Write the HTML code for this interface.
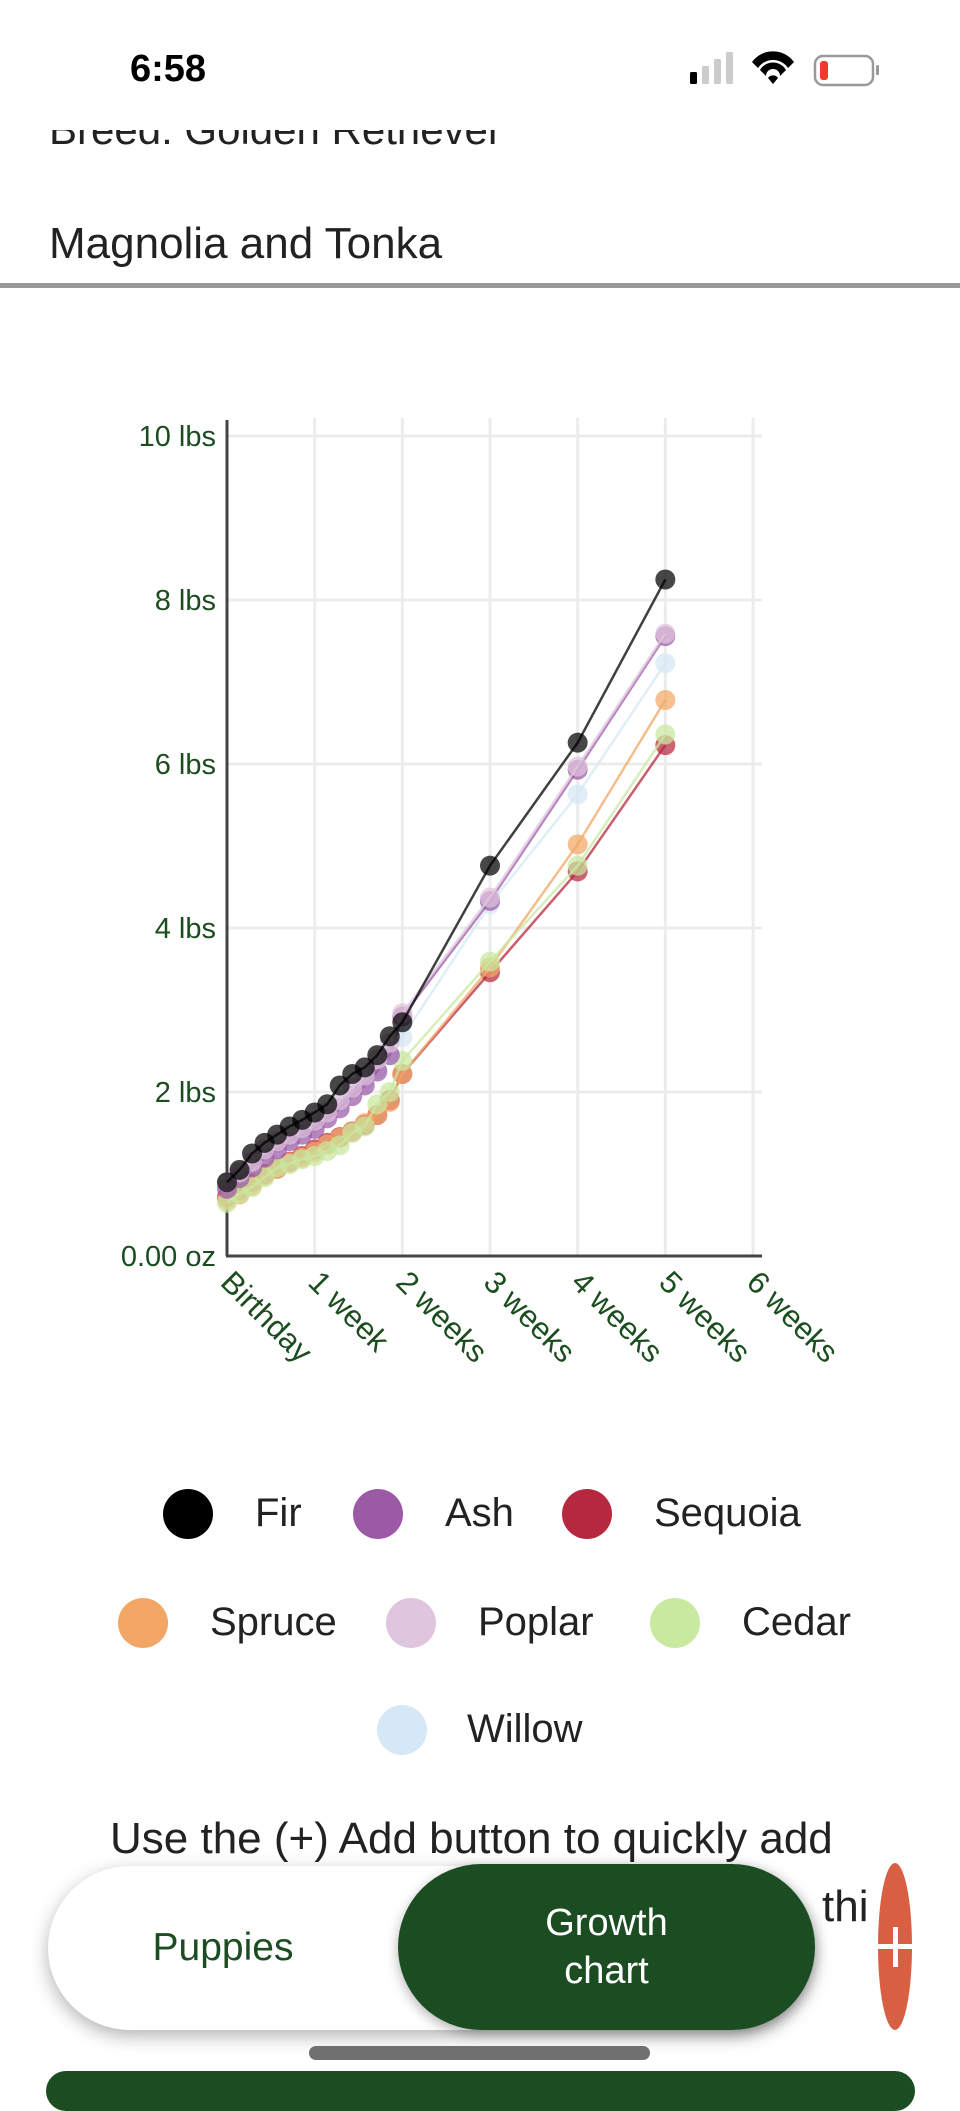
<!DOCTYPE html>
<html><head><meta charset="utf-8">
<style>
html,body{margin:0;padding:0;background:#fff;}
body{width:960px;height:2079px;position:relative;overflow:hidden;font-family:"Liberation Sans",sans-serif;}
.abs{position:absolute;}
</style></head>
<body>
<div class="abs" style="left:49px;top:106px;font-size:42px;color:#222;white-space:nowrap;">Breed: Golden Retriever</div>
<div class="abs" style="left:0;top:0;width:960px;height:130px;background:#fff;">
  <div class="abs" style="left:130px;top:48px;font-size:38px;font-weight:bold;color:#000;">6:58</div>
  <svg class="abs" style="left:680px;top:50px" width="210" height="40">
    <rect x="10" y="22" width="7" height="12" rx="1.5" fill="#000"/>
    <rect x="22" y="16" width="7" height="18" rx="1.5" fill="#ccc"/>
    <rect x="34" y="9" width="7" height="25" rx="1.5" fill="#ccc"/>
    <rect x="46" y="2" width="7" height="32" rx="1.5" fill="#ccc"/>
    <path d="M72 12 A26 26 0 0 1 114 12 L108 18 A18 18 0 0 0 78 18Z M80 20 A15 15 0 0 1 106 20 L100 26 A7 7 0 0 0 86 26Z M88 28 A6 6 0 0 1 98 28 L93 34Z" fill="#000"/>
    <rect x="135" y="6" width="58" height="29" rx="8" fill="none" stroke="#999" stroke-width="2.5"/>
    <rect x="140" y="11" width="8" height="19" rx="3" fill="#f03a2e"/>
    <rect x="196" y="15" width="3" height="10" rx="1" fill="#999"/>
  </svg>
</div>
<div class="abs" style="left:49px;top:219px;font-size:44px;color:#222;">Magnolia and Tonka</div>
<div class="abs" style="left:0;top:283px;width:960px;height:5px;background:#999;"></div>

<svg class="abs" id="chart" style="left:0;top:380px" width="960" height="1050"></svg>

<div>
<div class="abs" style="left:163px;top:1489px;"><span style="position:absolute;left:0;top:0;width:50px;height:50px;border-radius:50%;background:#000"></span><span style="position:absolute;left:92px;top:2px;font-size:40px;color:#222">Fir</span></div>
<div class="abs" style="left:353px;top:1489px;"><span style="position:absolute;left:0;top:0;width:50px;height:50px;border-radius:50%;background:#9b59a6"></span><span style="position:absolute;left:92px;top:2px;font-size:40px;color:#222">Ash</span></div>
<div class="abs" style="left:562px;top:1489px;"><span style="position:absolute;left:0;top:0;width:50px;height:50px;border-radius:50%;background:#b5283f"></span><span style="position:absolute;left:92px;top:2px;font-size:40px;color:#222;white-space:nowrap">Sequoia</span></div>
<div class="abs" style="left:118px;top:1598px;"><span style="position:absolute;left:0;top:0;width:50px;height:50px;border-radius:50%;background:#f2a766"></span><span style="position:absolute;left:92px;top:2px;font-size:40px;color:#222">Spruce</span></div>
<div class="abs" style="left:386px;top:1598px;"><span style="position:absolute;left:0;top:0;width:50px;height:50px;border-radius:50%;background:#dfc5dd"></span><span style="position:absolute;left:92px;top:2px;font-size:40px;color:#222">Poplar</span></div>
<div class="abs" style="left:650px;top:1598px;"><span style="position:absolute;left:0;top:0;width:50px;height:50px;border-radius:50%;background:#c9e8a0"></span><span style="position:absolute;left:92px;top:2px;font-size:40px;color:#222">Cedar</span></div>
<div class="abs" style="left:377px;top:1705px;"><span style="position:absolute;left:0;top:0;width:50px;height:50px;border-radius:50%;background:#d6e8f5"></span><span style="position:absolute;left:90px;top:2px;font-size:40px;color:#222">Willow</span></div>
</div>

<div class="abs" style="left:110px;top:1814px;font-size:44px;color:#222;white-space:nowrap;">Use the (+) Add button to quickly add</div>
<div class="abs" style="left:822px;top:1882px;font-size:44px;color:#222;white-space:nowrap;">thi</div>

<div class="abs" style="left:48px;top:1866px;width:766px;height:164px;border-radius:82px;background:#fff;box-shadow:0 6px 18px rgba(0,0,0,0.3);"></div>
<div class="abs" style="left:48px;top:1866px;width:350px;height:164px;display:flex;align-items:center;justify-content:center;font-size:39px;color:#1c4d22;">Puppies</div>
<div class="abs" style="left:398px;top:1864px;width:417px;height:166px;border-radius:83px;background:#1c4d22;display:flex;align-items:center;justify-content:center;text-align:center;font-size:38px;line-height:48px;color:#fff;box-shadow:0 4px 12px rgba(0,0,0,0.3);">Growth<br>chart</div>
<div class="abs" style="left:878px;top:1863px;width:34px;height:167px;border-radius:50%;background:#d95f43;"></div>
<div class="abs" style="left:877px;top:1944px;width:36px;height:5px;background:#fff;"></div>
<div class="abs" style="left:893px;top:1927px;width:5px;height:40px;background:#fff;"></div>
<div class="abs" style="left:309px;top:2046px;width:341px;height:14px;border-radius:7px;background:#707070;"></div>
<div class="abs" style="left:46px;top:2071px;width:869px;height:40px;border-radius:20px;background:#1c4d22;"></div>

<script>
const xTickDays = [0, 7, 14, 21, 28, 35, 42];
const xTickLabels = ["Birthday", "1 week", "2 weeks", "3 weeks", "4 weeks", "5 weeks", "6 weeks"];
const yTickValues = [0, 2, 4, 6, 8, 10];
const yTickLabels = ["0.00 oz", "2 lbs", "4 lbs", "6 lbs", "8 lbs", "10 lbs"];
const days = [0,1,2,3,4,5,6,7,8,9,10,11,12,13,14,21,28,35];
const seriesNames = ["Sequoia","Spruce","Cedar","Willow","Ash","Poplar","Fir"];
const seriesColors = ["#b5283f","#f2a766","#c9e8a0","#d6e8f5","#9b59a6","#dfc5dd","#000000"];
const sequoia = [0.72,0.8,0.9,1.0,1.07,1.15,1.22,1.3,1.38,1.45,1.52,1.6,1.72,1.9,2.22,3.46,4.69,6.23];
const spruce  = [0.68,0.75,0.86,0.98,1.06,1.14,1.2,1.27,1.36,1.44,1.52,1.62,1.72,1.88,2.22,3.52,5.02,6.78];
const cedar   = [0.65,0.76,0.84,0.96,1.08,1.12,1.18,1.22,1.28,1.35,1.5,1.58,1.85,2.0,2.38,3.59,4.76,6.36];
const willow  = [0.88,1.0,1.12,1.28,1.38,1.45,1.55,1.62,1.75,1.88,2.05,2.15,2.28,2.45,2.67,4.29,5.63,7.23];
const ash     = [0.82,0.95,1.08,1.2,1.3,1.4,1.48,1.55,1.68,1.8,1.95,2.08,2.25,2.45,2.92,4.33,5.93,7.56];
const poplar  = [0.9,1.02,1.15,1.3,1.4,1.48,1.56,1.65,1.75,1.9,2.05,2.2,2.4,2.6,2.96,4.37,5.97,7.59];
const fir     = [0.9,1.05,1.25,1.38,1.48,1.58,1.66,1.75,1.85,2.08,2.22,2.3,2.45,2.68,2.85,4.76,6.26,8.25];
const seriesData = [sequoia, spruce, cedar, willow, ash, poplar, fir];

const NS = "http://www.w3.org/2000/svg";
const svg = document.getElementById("chart");
const X0 = 227, X1 = 762, Y0 = 876, YT = 38;
const dayPx = (753 - 227) / 42;
function xs(d){ return X0 + d * dayPx; }
function ys(v){ return Y0 - v * 82; }
function mk(tag, attrs){ const e = document.createElementNS(NS, tag); for (const k in attrs) e.setAttribute(k, attrs[k]); svg.appendChild(e); return e; }

yTickValues.forEach((v, i) => {
  if (v > 0) {
    const g = mk("line", {x1: X0, x2: X1, y1: ys(v), y2: ys(v), stroke: "#ececec", "stroke-width": 3});
    
    
  }
  const t = mk("text", {x: 216, y: ys(v) + 10, "text-anchor": "end", "font-size": 29, fill: "#1b4d1f", "font-family": "Liberation Sans, sans-serif"});
  t.textContent = yTickLabels[i];
  
  
});
xTickDays.forEach((d, i) => {
  if (d > 0) {
    const g = mk("line", {x1: xs(d), x2: xs(d), y1: YT, y2: Y0, stroke: "#ececec", "stroke-width": 3});
    
    
  }
  const tx = xs(d) - 8, ty = Y0 + 28;
  const t = mk("text", {x: tx, y: ty, transform: "rotate(45 " + tx + " " + ty + ")", "font-size": 31, fill: "#1b4d1f", "font-family": "Liberation Sans, sans-serif"});
  t.textContent = xTickLabels[i];
  
  
});
const ax = mk("line", {x1: X0, x2: X0, y1: YT + 2, y2: Y0, stroke: "#444", "stroke-width": 3});


const bx = mk("line", {x1: X0 - 1, x2: X1, y1: Y0, y2: Y0, stroke: "#444", "stroke-width": 3});



seriesData.forEach((vals, s) => {
  const pts = vals.map((v, i) => xs(days[i]) + "," + ys(v)).join(" ");
  const pl = mk("polyline", {points: pts, fill: "none", stroke: seriesColors[s], "stroke-width": 2.5, opacity: 0.75});
  
  
  vals.forEach((v, i) => {
    const c = mk("circle", {cx: xs(days[i]), cy: ys(v), r: 10, fill: seriesColors[s], opacity: 0.72});
    
    
  });
});
</script>
</body></html>
